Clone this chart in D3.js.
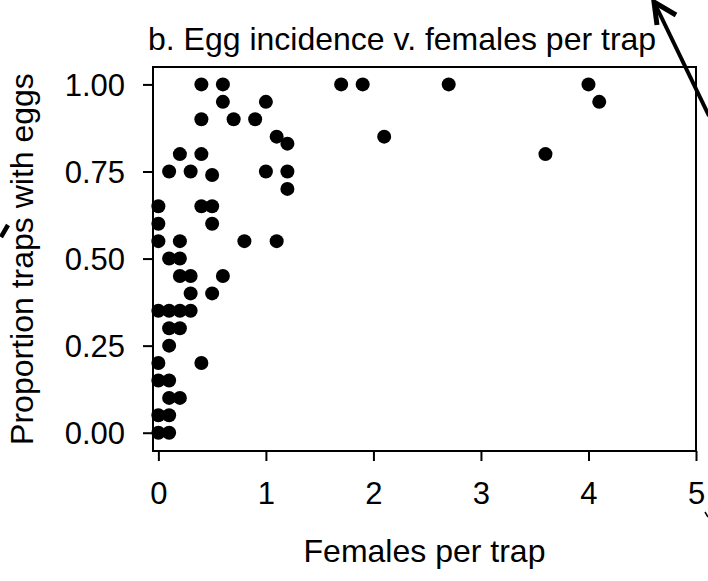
<!DOCTYPE html>
<html>
<head>
<meta charset="utf-8">
<script src="https://cdn.jsdelivr.net/npm/d3@7"></script>
<style>
  html, body { margin: 0; padding: 0; background: #fff; }
  svg { display: block; }
  text { font-family: "Liberation Sans", Arial, Helvetica, sans-serif; fill: #000; }
</style>
</head>
<body>
<svg id="chart" width="708" height="581"></svg>
<script>
// ---- data ----
const femalesPerTrap = [
  0.4, 0.6, 1.7, 1.9, 2.7, 4.0,
  0.6, 1.0, 4.1,
  0.4, 0.7, 0.9,
  1.1, 2.1,
  1.2,
  0.2, 0.4, 3.6,
  0.1, 0.3, 1.0, 1.2,
  0.5,
  1.2,
  0.0, 0.4, 0.5,
  0.0, 0.5,
  0.0, 0.2, 0.8, 1.1,
  0.1, 0.2,
  0.2, 0.3, 0.6,
  0.3, 0.5,
  0.0, 0.1, 0.2, 0.3,
  0.1, 0.2,
  0.1,
  0.0, 0.4,
  0.0, 0.1,
  0.1, 0.2,
  0.0, 0.1,
  0.0, 0.1
];
const propWithEggs = [
  1.00, 1.00, 1.00, 1.00, 1.00, 1.00,
  0.95, 0.95, 0.95,
  0.90, 0.90, 0.90,
  0.85, 0.85,
  0.83,
  0.80, 0.80, 0.80,
  0.75, 0.75, 0.75, 0.75,
  0.74,
  0.70,
  0.65, 0.65, 0.65,
  0.60, 0.60,
  0.55, 0.55, 0.55, 0.55,
  0.50, 0.50,
  0.45, 0.45, 0.45,
  0.40, 0.40,
  0.35, 0.35, 0.35, 0.35,
  0.30, 0.30,
  0.25,
  0.20, 0.20,
  0.15, 0.15,
  0.10, 0.10,
  0.05, 0.05,
  0.00, 0.00
];
const xTicks = [0, 1, 2, 3, 4, 5];
const yTicks = [0, 0.25, 0.5, 0.75, 1.0];
const titleText = "b. Egg incidence v. females per trap";
const xLabel = "Females per trap";
const yLabel = "Proportion traps with eggs";

// ---- layout ----
const plot = { left: 153, right: 696, top: 67, bottom: 451 };
const svg = d3.select("#chart");

const x = d3.scaleLinear().domain([-0.05, 5]).range([plot.left, plot.right]);
const y = d3.scaleLinear().domain([-0.0525, 1.05]).range([plot.bottom, plot.top]);

// axes
const yAxis = d3.axisLeft(y).tickValues(yTicks).tickFormat(d3.format(".2f"))
  .tickSize(10).tickSizeOuter(0).tickPadding(18);
const gy = svg.append("g").attr("transform", `translate(${plot.left},0)`).call(yAxis);
gy.select(".domain").remove();
gy.selectAll(".tick line").attr("stroke", "#000").attr("stroke-width", 2);
gy.selectAll(".tick text").attr("font-size", 31).attr("dy", "0.36em")
  .attr("font-family", "Liberation Sans, Arial, sans-serif").attr("fill", "#000");

const xAxis = d3.axisBottom(x).tickValues(xTicks).tickFormat(d3.format("d"))
  .tickSize(10).tickSizeOuter(0).tickPadding(20);
const gx = svg.append("g").attr("transform", `translate(0,${plot.bottom})`).call(xAxis);
gx.select(".domain").remove();
gx.selectAll(".tick line").attr("stroke", "#000").attr("stroke-width", 2);
gx.selectAll(".tick text").attr("font-size", 31).attr("dy", null).attr("y", 53)
  .attr("font-family", "Liberation Sans, Arial, sans-serif").attr("fill", "#000");

// box
svg.append("rect")
  .attr("x", plot.left).attr("y", plot.top)
  .attr("width", plot.right - plot.left).attr("height", plot.bottom - plot.top)
  .attr("fill", "none").attr("stroke", "#000").attr("stroke-width", 2);

// points
const pts = femalesPerTrap.map((v, i) => [v, propWithEggs[i]]);
svg.append("g").selectAll("circle").data(pts).join("circle")
  .attr("cx", d => x(d[0])).attr("cy", d => y(d[1]))
  .attr("r", 7).attr("fill", "#000");

// texts
svg.append("text").attr("x", 148).attr("y", 50)
  .attr("font-size", 32).text(titleText);
svg.append("text").attr("x", (plot.left + plot.right) / 2).attr("y", 562)
  .attr("text-anchor", "middle").attr("font-size", 32).text(xLabel);
svg.append("text").attr("transform", `translate(33,${(plot.top + plot.bottom) / 2}) rotate(-90)`)
  .attr("text-anchor", "middle").attr("font-size", 32).text(yLabel);

// cropped fragments of neighbouring panels
const deco = svg.append("g").attr("stroke", "#000").attr("fill", "none")
  .attr("stroke-linecap", "butt").attr("stroke-linejoin", "miter");
deco.append("path").attr("d", "M709,116 L655,4").attr("stroke-width", 4);
deco.append("path").attr("d", "M676,15 L654,2 L657,25").attr("stroke-width", 5);
deco.append("path").attr("d", "M1,237 L8,225").attr("stroke-width", 4.5);
deco.append("path").attr("d", "M705,512 L708,517").attr("stroke-width", 1.5);
</script>
</body>
</html>
